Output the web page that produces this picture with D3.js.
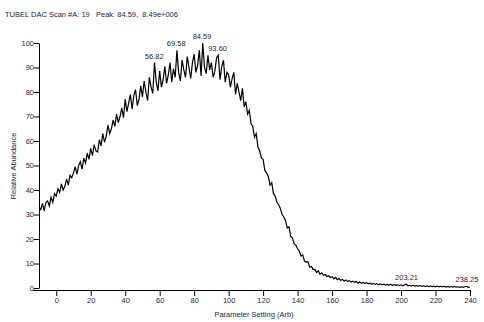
<!DOCTYPE html>
<meta charset="utf-8">
<style>

body {
  margin: 0;
  background-color: #fff;
}

.axis text, .lbl {
  font: 7.5px "Liberation Sans", Arial, sans-serif;
  fill: #1e1e38;
}

.axis path, .axis line {
  stroke: #000;
  stroke-width: 1;
}

</style>
<body>
<script src="https://d3js.org/d3.v7.min.js"></script>
<div id="chart"></div>
<script>

// scan settings, one per point (Arb)
var xStart = -10, xEnd = 240;

// relative abundance, x = -10 .. 240 step 1
var abundance = [
  33, 32, 34.5, 31.5, 35, 35.5, 33.5, 37, 35, 38.5,
  37.5, 40.5, 39, 42.5, 40, 41.5, 44.5, 42, 46, 45,
  47, 49.5, 46.5, 50, 51.5, 48.5, 53, 51, 55, 52.5,
  57, 54, 58.5, 56, 55.5, 60.5, 58, 63, 59.5, 62,
  66.5, 63, 65, 68.5, 66, 71, 67.5, 70, 73.5, 69.5,
  77, 72, 75.5, 79, 73, 78.5, 81, 74.5, 77, 82.5,
  78, 84.5, 80, 76.5, 86, 82, 79.5, 92, 84, 80.5,
  88.5, 82, 85, 90.5, 83.5, 87, 92, 84, 89.5, 86,
  97, 88, 84.5, 93, 89, 86, 94.5, 90, 85.5, 92,
  95.5, 88, 91, 97, 86.5, 100, 90, 87.5, 95, 89,
  92, 86, 88.5, 94, 95, 85, 90.5, 93, 84, 88,
  87, 82, 85.5, 88, 79, 83.5, 80, 76.5, 81.5, 74,
  76, 71, 72.5, 67, 66, 61.5, 63, 57.5, 56, 53,
  52.5, 48, 47, 45.5, 42, 43, 38.5, 37.5, 35, 34,
  32.5, 30, 29, 27.5, 24.5, 25, 21, 20.5, 18, 17.5,
  16, 15, 13, 13.5, 11, 10.5, 10.8, 8.5, 8.8, 7.6,
  7.6, 6.3, 7, 5.6, 6.2, 5.2, 5.5, 4.7, 5.0, 4.3,
  4.6, 3.7, 4.3, 3.4, 3.9, 3.1, 3.6, 2.8, 3.3, 2.7,
  3.0, 2.4, 2.8, 2.2, 2.7, 2.0, 2.5, 1.9, 2.3, 1.8,
  2.2, 1.7, 2.0, 1.5, 1.9, 1.4, 1.8, 1.3, 1.7, 1.3,
  1.6, 1.2, 1.5, 1.1, 1.5, 1.0, 1.4, 1.1, 1.3, 1.0,
  1.3, 0.9, 1.2, 1.6, 0.9, 1.1, 0.8, 1.1, 0.8, 1.0,
  0.7, 1.0, 0.7, 0.9, 0.6, 0.9, 0.6, 0.8, 0.6, 0.8,
  0.5, 0.8, 0.5, 0.7, 0.5, 0.7, 0.4, 0.6, 0.4, 0.6,
  0.4, 0.6, 0.4, 0.5, 0.3, 0.5, 0.3, 0.5, 0.7, 0.3, 0.4
];

// labelled peaks
var peakX = [56.82, 69.58, 84.59, 93.60, 203.21, 238.25];
var peakY = [92, 97, 100, 95, 1.6, 0.7];

var xMajor = [0, 20, 40, 60, 80, 100, 120, 140, 160, 180, 200, 220, 240];
var yMajor = [0, 10, 20, 30, 40, 50, 60, 70, 80, 90, 100];

var titleText = "TUBEL DAC Scan #A: 19   Peak: 84.59,  8.49e+006";
var xTitle = "Parameter Setting (Arb)";
var yTitle = "Relative Abundance";

var width = 484, height = 322;

var data = abundance.map(function(v, i) { return {x: xStart + i, y: v}; });

var x = d3.scaleLinear().domain([xStart, xEnd]).range([39, 470]);
var y = d3.scaleLinear().domain([0, 100]).range([288, 43]);

var svg = d3.select("#chart")
            .append("svg")
            .attr("width", width)
            .attr("height", height);

svg.append("text")
   .attr("class", "lbl")
   .attr("x", 5)
   .attr("y", 17)
   .style("white-space", "pre")
   .text(titleText);

// x axis: minor every 5, labels every 20
var xg = svg.append("g")
   .attr("class", "axis")
   .attr("transform", "translate(0,290)");

xg.append("line").attr("x1", 33).attr("x2", x(xEnd)).attr("y1", 0.5).attr("y2", 0.5);

xg.call(d3.axisBottom(x).tickValues(d3.range(xStart, xEnd + 1, 5))
        .tickSize(4).tickSizeOuter(0).tickFormat(""));
xg.call(d3.axisBottom(x).tickValues(xMajor).tickSize(6).tickSizeOuter(0).tickPadding(2));
xg.selectAll(".domain").remove();

// y axis: minor every 2, labels every 10
var yg = svg.append("g")
   .attr("class", "axis")
   .attr("transform", "translate(39,0)");

yg.call(d3.axisLeft(y).tickValues(d3.range(0, 101, 2)).tickSize(3).tickSizeOuter(0).tickFormat(""));
yg.call(d3.axisLeft(y).tickValues(yMajor).tickSize(5).tickSizeOuter(0).tickPadding(0));

svg.append("text")
   .attr("class", "lbl")
   .attr("text-anchor", "middle")
   .attr("x", 254)
   .attr("y", 317)
   .text(xTitle);

svg.append("text")
   .attr("class", "lbl")
   .attr("text-anchor", "middle")
   .attr("transform", "translate(16,166) rotate(-90)")
   .text(yTitle);

// the trace
var line = d3.line()
    .x(function(d) { return x(d.x); })
    .y(function(d) { return y(d.y); });

svg.append("path")
   .datum(data)
   .attr("fill", "none")
   .attr("stroke", "#000")
   .attr("stroke-width", 1.2)
   .attr("d", line);

svg.selectAll(".peak")
   .data(peakX)
   .enter().append("text")
   .attr("class", "lbl peak")
   .attr("text-anchor", "middle")
   .attr("x", function(d) { return x(d); })
   .attr("y", function(d, i) { return y(peakY[i]) - 4; })
   .text(function(d) { return d.toFixed(2); });

</script>
</body>
</html>
